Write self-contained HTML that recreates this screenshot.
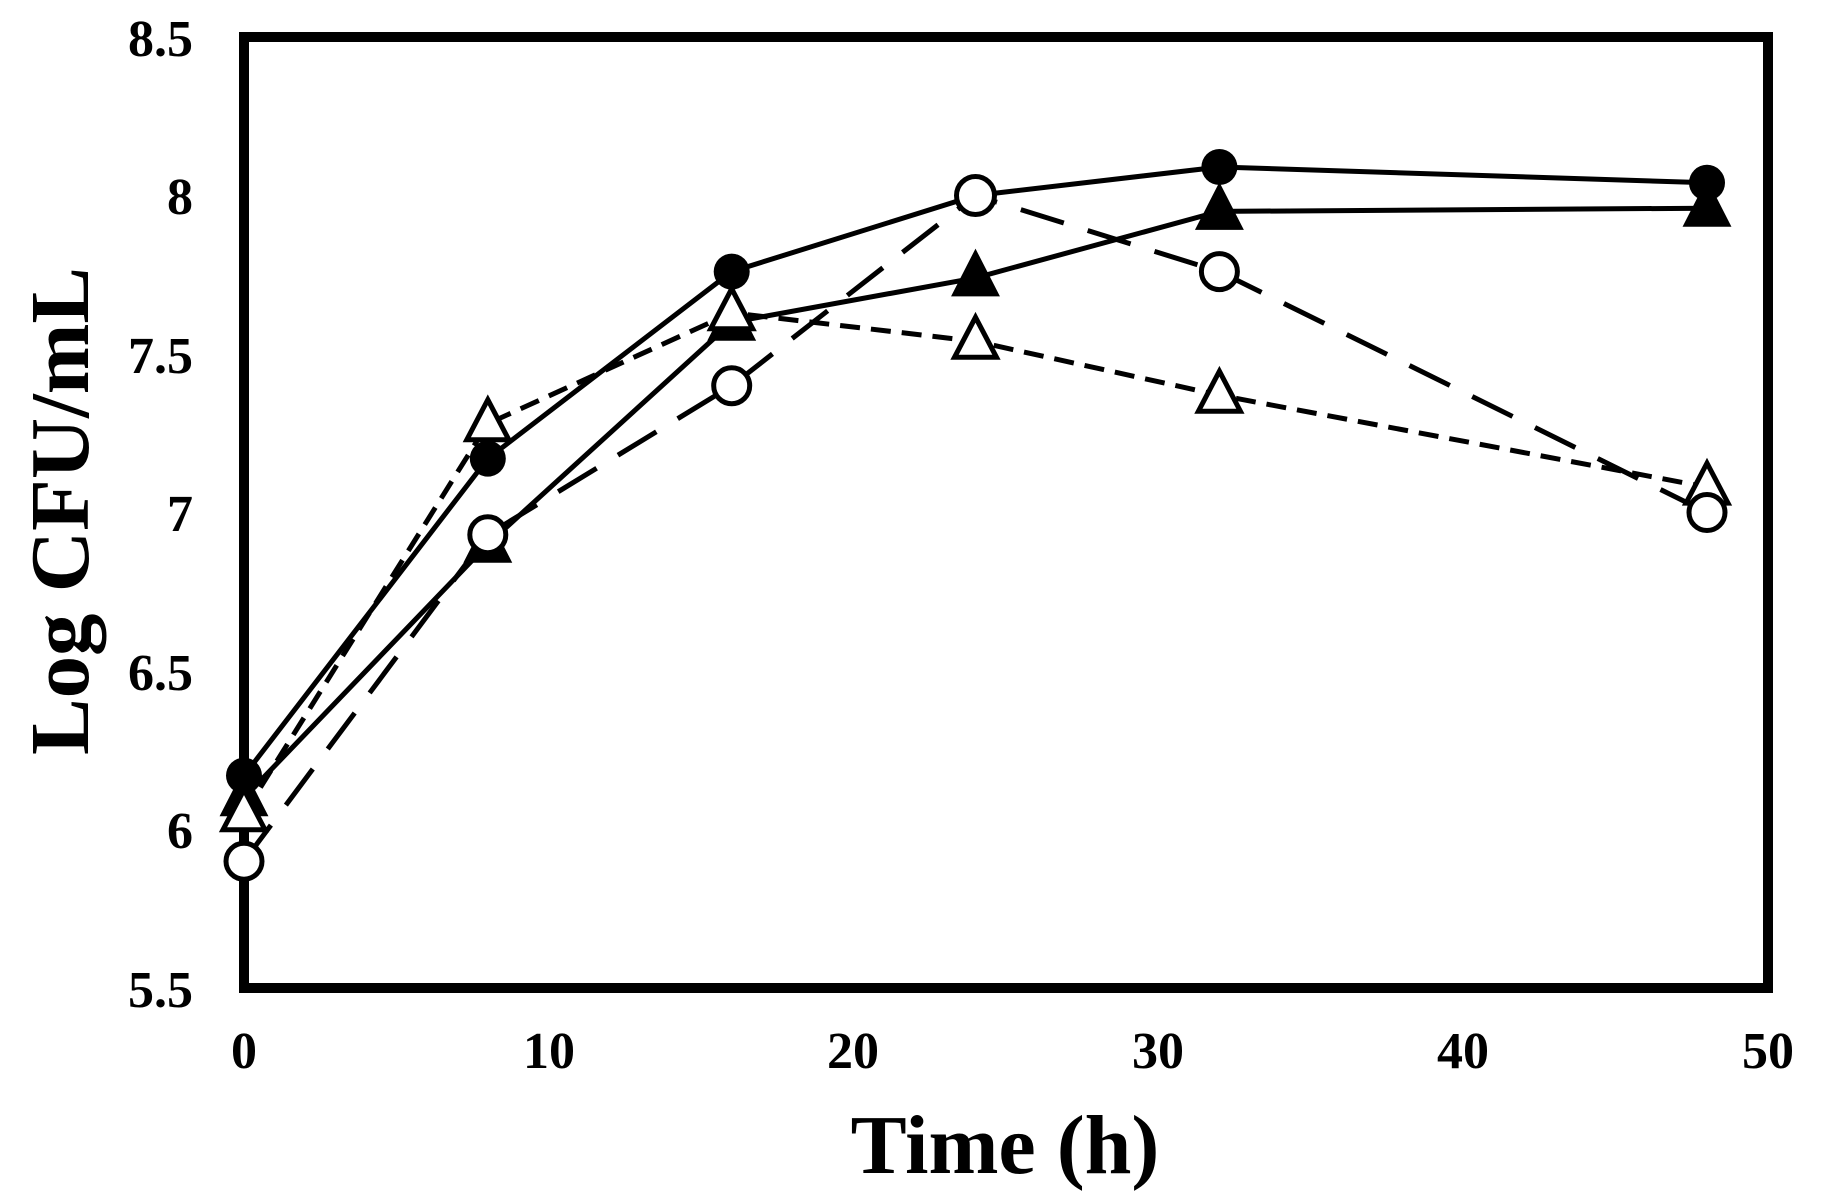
<!DOCTYPE html>
<html><head><meta charset="utf-8"><style>html,body{margin:0;padding:0;background:#fff;}svg{display:block}</style></head>
<body>
<svg width="1822" height="1203" viewBox="0 0 1822 1203" xmlns="http://www.w3.org/2000/svg">
<defs>
<g id="ftri"><polygon points="0,-26 22,17 -22,17" fill="#000" stroke="#000" stroke-width="3"/></g>
<g id="otri"><polygon points="0,-24 21,16 -21,16" fill="#fff" stroke="#000" stroke-width="5"/></g>
</defs>
<rect x="244" y="37" width="1524" height="951" fill="none" stroke="#000" stroke-width="10"/>
<g font-family="Liberation Serif, serif" font-weight="bold" font-size="52" fill="#000">
<text x="193" y="56" text-anchor="end">8.5</text>
<text x="193" y="214" text-anchor="end">8</text>
<text x="193" y="373" text-anchor="end">7.5</text>
<text x="193" y="531" text-anchor="end">7</text>
<text x="193" y="690" text-anchor="end">6.5</text>
<text x="193" y="848" text-anchor="end">6</text>
<text x="193" y="1007" text-anchor="end">5.5</text>
<text x="244" y="1068" text-anchor="middle">0</text>
<text x="549" y="1068" text-anchor="middle">10</text>
<text x="853" y="1068" text-anchor="middle">20</text>
<text x="1158" y="1068" text-anchor="middle">30</text>
<text x="1463" y="1068" text-anchor="middle">40</text>
<text x="1768" y="1068" text-anchor="middle">50</text>
<text x="1005" y="1173" text-anchor="middle" font-size="84">Time (h)</text>
<text transform="translate(88,511) rotate(-90)" text-anchor="middle" font-size="84" textLength="488" lengthAdjust="spacingAndGlyphs">Log  CFU/mL</text>
</g>
<g fill="none" stroke="#000" stroke-width="5">
<polyline points="244,775.6 487.8,458.6 731.7,271.6 975.5,195.5 1219.4,167 1707,182.8"/>
<polyline points="244,797.8 487.8,544.2 731.7,322.3 975.5,277.9 1219.4,211.4 1707,208.2"/>
<polyline points="244,861.2 487.8,534.7 731.7,385.7 975.5,195.5 1219.4,271.6 1707,512.5" stroke-dasharray="45,25"/>
<polyline points="244,813.7 487.8,423.7 731.7,312.8 975.5,341.3 1219.4,395.2 1707,487.1" stroke-dasharray="20,11"/>
</g>
<g fill="#000">
<circle cx="244" cy="775.6" r="18"/><circle cx="487.8" cy="458.6" r="18"/><circle cx="731.7" cy="271.6" r="18"/><circle cx="975.5" cy="195.5" r="18"/><circle cx="1219.4" cy="167" r="18"/><circle cx="1707" cy="182.8" r="18"/>
</g>
<use href="#ftri" x="244" y="797.8"/><use href="#ftri" x="487.8" y="544.2"/><use href="#ftri" x="731.7" y="322.3"/><use href="#ftri" x="975.5" y="277.9"/><use href="#ftri" x="1219.4" y="211.4"/><use href="#ftri" x="1707" y="208.2"/>
<use href="#otri" x="244" y="813.7"/><use href="#otri" x="487.8" y="423.7"/><use href="#otri" x="731.7" y="312.8"/><use href="#otri" x="975.5" y="341.3"/><use href="#otri" x="1219.4" y="395.2"/><use href="#otri" x="1707" y="487.1"/>
<g fill="#fff" stroke="#000" stroke-width="5">
<circle cx="244" cy="861.2" r="18"/><circle cx="487.8" cy="534.7" r="18"/><circle cx="731.7" cy="385.7" r="18"/><circle cx="975.5" cy="195.5" r="19"/><circle cx="1219.4" cy="271.6" r="18"/><circle cx="1707" cy="512.5" r="18"/>
</g>
</svg>
</body></html>
